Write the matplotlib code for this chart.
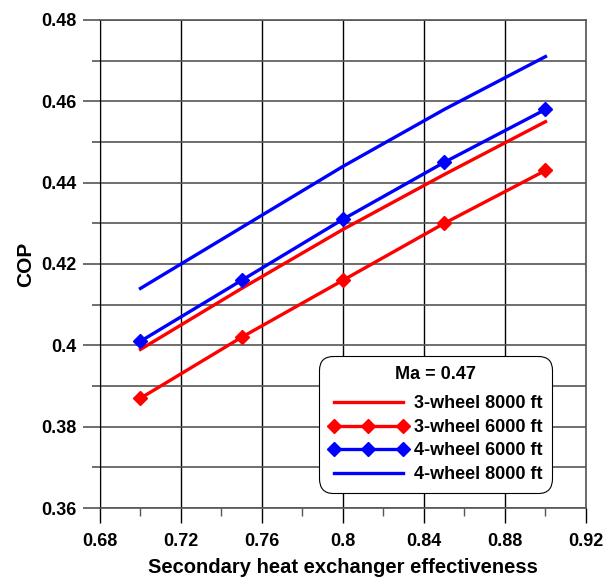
import matplotlib.pyplot as plt
from matplotlib.ticker import MultipleLocator

plt.rcParams['font.family'] = 'Liberation Sans'
plt.rcParams['font.weight'] = 'bold'

eff = [0.70, 0.75, 0.80, 0.85, 0.90]
cop_3w_8000 = [0.399, 0.414, 0.4285, 0.442, 0.455]
cop_3w_6000 = [0.387, 0.402, 0.416, 0.430, 0.443]
cop_4w_6000 = [0.401, 0.416, 0.431, 0.445, 0.458]
cop_4w_8000 = [0.414, 0.429, 0.444, 0.458, 0.471]

xticks = [0.68, 0.72, 0.76, 0.80, 0.84, 0.88, 0.92]
xlabels = ['0.68', '0.72', '0.76', '0.8', '0.84', '0.88', '0.92']
yticks = [0.36, 0.38, 0.40, 0.42, 0.44, 0.46, 0.48]
ylabels = ['0.36', '0.38', '0.4', '0.42', '0.44', '0.46', '0.48']

fig = plt.figure(figsize=(6.03, 5.84), dpi=100)
ax = fig.add_axes([0.1658, 0.1301, 0.806, 0.8357])

ax.plot(eff, cop_3w_8000, color='red', lw=2.4, label='3-wheel 8000 ft')
ax.plot(eff, cop_3w_6000, color='red', lw=2.4, marker='D', ms=7.5, label='3-wheel 6000 ft')
ax.plot(eff, cop_4w_6000, color='blue', lw=2.4, marker='D', ms=7.5, label='4-wheel 6000 ft')
ax.plot(eff, cop_4w_8000, color='blue', lw=2.4, label='4-wheel 8000 ft')

ax.set_xlim(0.68, 0.92)
ax.set_ylim(0.36, 0.48)
ax.set_xticks(xticks)
ax.set_xticklabels(xlabels, fontweight='bold')
ax.set_yticks(yticks)
ax.set_yticklabels(ylabels, fontweight='bold')
ax.xaxis.set_minor_locator(MultipleLocator(0.02))
ax.yaxis.set_minor_locator(MultipleLocator(0.01))

ax.grid(True, which='major', axis='x', color='black', lw=1)
ax.grid(True, which='both', axis='y', color='#555555', lw=1.2)
ax.tick_params(axis='x', which='major', length=11, width=1, color='black', labelsize=13, pad=7)
ax.tick_params(axis='x', which='minor', length=6, width=1, color='#555555')
ax.tick_params(axis='y', which='major', length=12, width=1.2, color='#555555', labelsize=13, pad=5)
ax.tick_params(axis='y', which='minor', length=6, width=1.2, color='#555555')
for s in ['top', 'right', 'bottom']:
    ax.spines[s].set_color('#555555')
    ax.spines[s].set_linewidth(1.2)
ax.spines['left'].set_color('black')

ax.set_xlabel('Secondary heat exchanger effectiveness', fontsize=14.5, fontweight='bold', labelpad=6)
ax.set_ylabel('COP', fontsize=15, fontweight='bold', labelpad=4)

leg = ax.legend(title='Ma = 0.47', loc='lower right', bbox_to_anchor=(0.930, 0.031),
                borderaxespad=0,
                prop={'weight': 'bold', 'size': 13},
                title_fontproperties={'weight': 'bold', 'size': 13},
                numpoints=3, handlelength=4.4, handletextpad=0.3, labelspacing=0.36,
                borderpad=0.55, frameon=True, fancybox=True, edgecolor='black', framealpha=1)
leg.get_frame().set_linewidth(0.8)
leg.get_frame().set_boxstyle('round', pad=0, rounding_size=0.8)
# a bit more room under the title
leg._legend_box.sep = 9

fig.savefig('out.png', dpi=100)
